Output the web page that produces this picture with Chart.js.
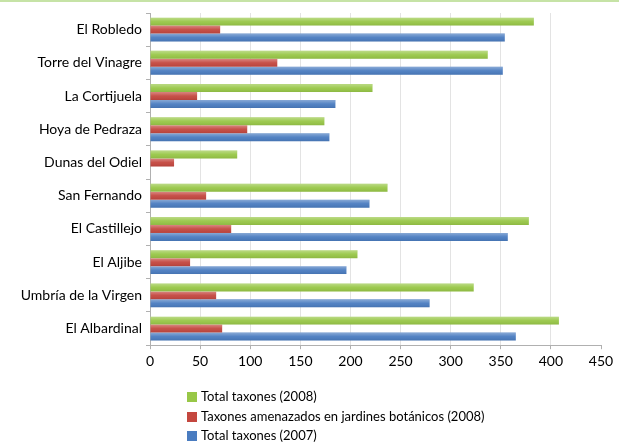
<!DOCTYPE html>
<html>
<head>
<meta charset="utf-8">
<script src="https://cdn.jsdelivr.net/npm/chart.js@4/dist/chart.umd.min.js"></script>
<style>
    html, body { margin: 0; padding: 0; background: #fff; }
    #wrap { position: relative; width: 619px; height: 444px; overflow: hidden; }
    #topline { position: absolute; left: 0; top: 0; width: 619px; height: 2px; background: #c6e3a6; }
    #legend { position: absolute; left: 187px; top: 387px; font-family: Lato, sans-serif; font-size: 13px; color: #000; }
    #legend div { height: 19.5px; line-height: 19px; white-space: nowrap; }
    #legend span { display: inline-block; width: 10px; height: 10px; margin-right: 4px; vertical-align: -1px; }
</style>
</head>
<body>
<div id="wrap">
    <canvas id="myChart" width="619" height="444"></canvas>
    <div id="topline"></div>
    <div id="legend"></div>
</div>
<script>
var Gardens = ["El Robledo", "Torre del Vinagre", "La Cortijuela", "Hoya de Pedraza", "Dunas del Odiel",
        "San Fernando", "El Castillejo", "El Aljibe", "Umbría de la Virgen", "El Albardinal"],
    Total2008 = [383, 337, 222, 174, 87, 237, 378, 207, 323, 408],
    Amenazados2008 = [70, 127, 47, 97, 24, 56, 81, 40, 66, 72],
    Total2007 = [354, 352, 185, 179, 0, 219, 357, 196, 279, 365],
    SeriesNames = ["Total taxones (2008)", "Taxones amenazados en jardines botánicos (2008)", "Total taxones (2007)"],
    XTicks = [0, 50, 100, 150, 200, 250, 300, 350, 400, 450];

const colors = ['#98c747', '#c4473f', '#4a7cc0'];

// light gloss on the upper half of each bar, like the original Excel look
const gloss = {
    id: 'gloss',
    afterDatasetsDraw(chart) {
        const ctx = chart.ctx;
        chart.data.datasets.forEach((ds, i) => {
            chart.getDatasetMeta(i).data.forEach(bar => {
                const p = bar.getProps(['x', 'y', 'base', 'height'], true);
                if (p.x - p.base < 1) return;
                const top = p.y - p.height / 2;
                let g = ctx.createLinearGradient(0, top, 0, top + p.height);
                g.addColorStop(0, 'rgba(255,255,255,0.35)');
                g.addColorStop(0.5, 'rgba(255,255,255,0.05)');
                g.addColorStop(1, 'rgba(0,0,0,0.08)');
                ctx.save();
                ctx.fillStyle = g;
                ctx.fillRect(p.base, top, p.x - p.base, p.height);
                ctx.restore();
            });
        });
    }
};

var ctx = document.getElementById('myChart').getContext('2d');
var myChart = new Chart(ctx, {
    type: 'bar',
    data: {
        labels: Gardens,
        datasets: [{
            label: SeriesNames[0],
            data: Total2008,
            backgroundColor: colors[0]
        }, {
            label: SeriesNames[1],
            data: Amenazados2008,
            backgroundColor: colors[1]
        }, {
            label: SeriesNames[2],
            data: Total2007,
            backgroundColor: colors[2]
        }]
    },
    options: {
        indexAxis: 'y',
        responsive: false,
        animation: false,
        devicePixelRatio: 1,
        datasets: {
            bar: {
                categoryPercentage: 0.72,
                barPercentage: 1.0
            }
        },
        layout: {
            padding: { top: 13, right: 18, bottom: 70, left: 0 }
        },
        plugins: {
            legend: { display: false },
            tooltip: { enabled: false }
        },
        scales: {
            x: {
                min: 0,
                max: 450,
                afterBuildTicks: axis => { axis.ticks = XTicks.map(v => ({ value: v })); },
                grid: {
                    color: c => (c.tick && c.tick.value == 450) ? 'rgba(0,0,0,0)' : '#e3e3e3',
                    tickLength: 4,
                    tickColor: '#b0b0b0'
                },
                border: { color: '#b0b0b0' },
                ticks: {
                    color: '#000',
                    padding: 4,
                    font: { family: 'Lato', size: 14 }
                }
            },
            y: {
                afterFit: scale => { scale.width = 150; },
                grid: {
                    drawOnChartArea: false,
                    offset: true,
                    tickLength: 4,
                    tickColor: '#b0b0b0'
                },
                border: { color: '#b0b0b0' },
                ticks: {
                    color: '#000',
                    padding: 4,
                    font: { family: 'Lato', size: 14 }
                }
            }
        }
    },
    plugins: [gloss]
});

var legend = document.getElementById('legend');
myChart.data.datasets.forEach(ds => {
    var row = document.createElement('div');
    row.innerHTML = '<span style="background:' + ds.backgroundColor + '"></span>' + ds.label;
    legend.appendChild(row);
});
</script>
</body>
</html>
